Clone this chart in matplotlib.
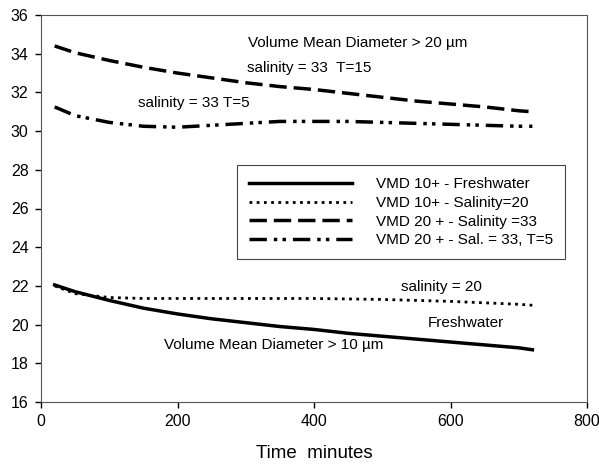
import matplotlib.pyplot as plt

plt.rcParams['font.family'] = ['Liberation Sans', 'DejaVu Sans']

t_fresh = [20, 50, 100, 150, 200, 250, 300, 350, 400, 450, 500, 550, 600, 650, 700, 720]
vmd_fresh = [22.05, 21.7, 21.25, 20.85, 20.55, 20.3, 20.1, 19.9, 19.75, 19.55, 19.4, 19.25, 19.1, 18.95, 18.8, 18.7]

t_sal20 = [20, 50, 100, 150, 200, 300, 400, 500, 600, 700, 720]
vmd_sal20 = [22.0, 21.6, 21.4, 21.35, 21.35, 21.35, 21.35, 21.3, 21.2, 21.05, 21.0]

t_sal33 = [20, 50, 100, 150, 200, 250, 300, 350, 400, 450, 500, 550, 600, 650, 700, 720]
vmd_sal33 = [34.4, 34.05, 33.65, 33.3, 33.0, 32.75, 32.5, 32.3, 32.15, 31.95, 31.75, 31.55, 31.4, 31.25, 31.05, 31.0]

t_t5 = [20, 50, 100, 150, 200, 250, 300, 350, 400, 450, 500, 550, 600, 650, 700, 720]
vmd_t5 = [31.25, 30.8, 30.45, 30.25, 30.2, 30.3, 30.4, 30.5, 30.5, 30.5, 30.45, 30.4, 30.35, 30.3, 30.25, 30.25]

fig = plt.figure(figsize=(5.99, 4.66), dpi=100)
ax = fig.add_axes([41 / 599, 64 / 466, 546 / 599, 387 / 466])

ax.plot(t_fresh, vmd_fresh, color='black', lw=2.5, ls='-', label='VMD 10+ - Freshwater')
ax.plot(t_sal20, vmd_sal20, color='black', lw=2.0, ls=(0, (1, 1.6)), label='VMD 10+ - Salinity=20')
ax.plot(t_sal33, vmd_sal33, color='black', lw=2.5, ls=(0, (5, 2)), label='VMD 20 + - Salinity =33')
ax.plot(t_t5, vmd_t5, color='black', lw=2.5, ls=(0, (5, 2, 1, 1.5, 1, 2)), label='VMD 20 + - Sal. = 33, T=5')

ax.set_xlim(0, 800)
ax.set_ylim(16, 36)
ax.set_xticks([0, 200, 400, 600, 800])
ax.set_yticks(range(16, 37, 2))
ax.tick_params(direction='out', length=4, width=1, labelsize=11.5, pad=5)
for s in ax.spines.values():
    s.set_color('#555555')
    s.set_linewidth(0.8)
ax.set_xlabel('Time  minutes', fontsize=13.5, labelpad=11)

fs = 11
ax.text(303, 34.55, 'Volume Mean Diameter > 20 µm', fontsize=fs, va='center')
ax.text(302, 33.25, 'salinity = 33  T=15', fontsize=fs, va='center')
ax.text(142, 31.45, 'salinity = 33 T=5', fontsize=fs, va='center')
ax.text(527, 21.95, 'salinity = 20', fontsize=fs, va='center')
ax.text(566, 20.1, 'Freshwater', fontsize=fs, va='center')
ax.text(180, 18.95, 'Volume Mean Diameter > 10 µm', fontsize=fs, va='center')

leg = ax.legend(loc='upper left', bbox_to_anchor=(0.359, 0.612), borderaxespad=0,
                fontsize=fs, frameon=True, fancybox=False, edgecolor='#444444', framealpha=1,
                handlelength=6.7, borderpad=0.8, labelspacing=0.3, handletextpad=1.6)
leg.get_frame().set_linewidth(0.8)

fig.savefig('out.png', dpi=100)
